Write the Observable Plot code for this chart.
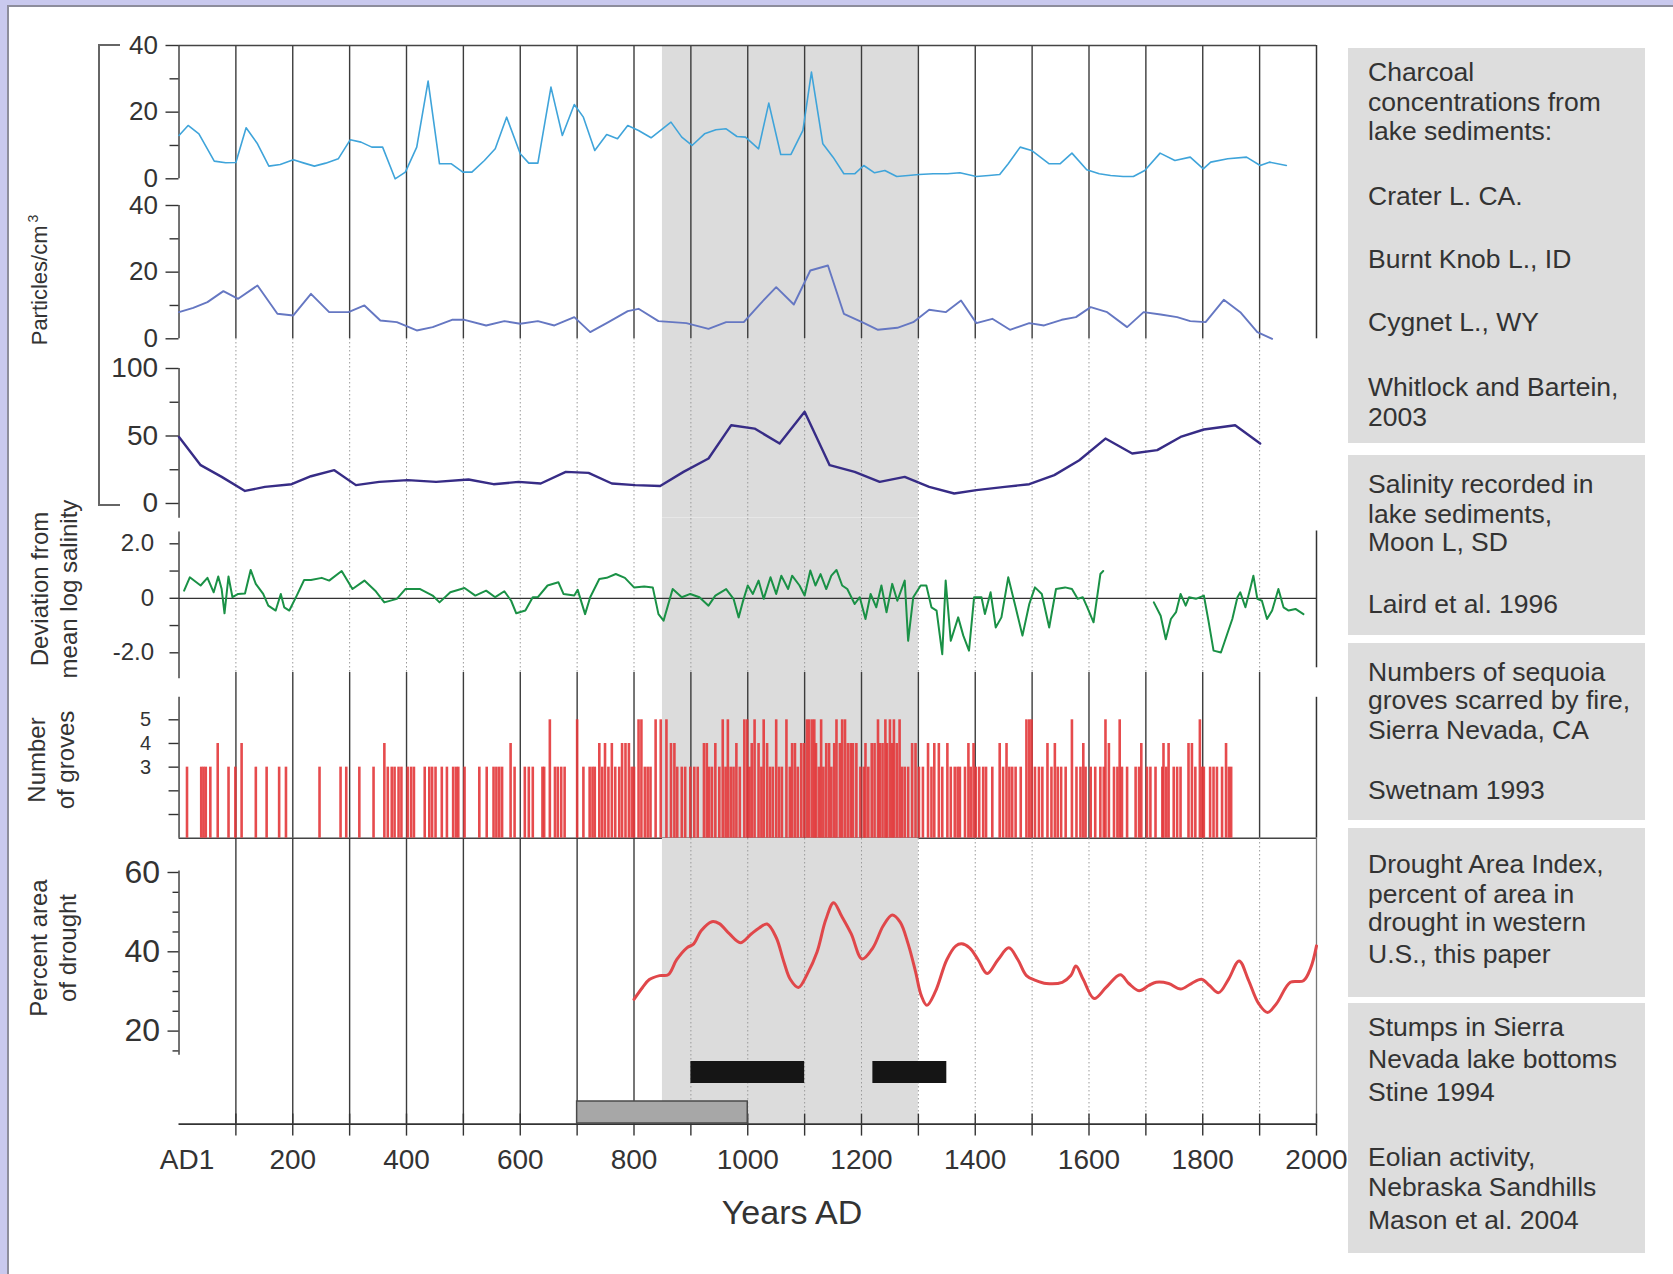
<!DOCTYPE html>
<html>
<head>
<meta charset="utf-8">
<script src="https://cdn.jsdelivr.net/npm/d3@7"></script>
<script src="https://cdn.jsdelivr.net/npm/@observablehq/plot@0.6"></script>
<style>
html, body { margin: 0; padding: 0; background: #c9c9ee; }
#page { position: relative; width: 1673px; height: 1274px; overflow: hidden; }
#sheet { position: absolute; left: 7px; top: 5px; right: 0; bottom: 0; background: #fff; border-left: 2px solid #8d8d9c; border-top: 2px solid #8d8d9c; }
.panel { position: absolute; left: 0; width: 1673px; }
.panel svg { overflow: visible; }
.ylab { position: absolute; font-family: "Liberation Sans", Arial, sans-serif; font-size: 24px; color: #333; line-height: 29px; text-align: center; white-space: nowrap; transform: translate(-50%, -50%) rotate(-90deg); }
.ylab sup { font-size: 14px; vertical-align: 9px; margin-left: 3px; }
.box { position: absolute; background: #dddddd; }
.box div { position: absolute; left: 20px; font-family: "Liberation Sans", Arial, sans-serif; font-size: 26.5px; line-height: 30px; color: #333; white-space: nowrap; }
.note { position: absolute; font-family: "Liberation Sans", Arial, sans-serif; color: #333; white-space: nowrap; }
.bracket { position: absolute; border: 2px solid #666; border-right: none; }
</style>
</head>
<body>
<div id="page">
  <div id="sheet"></div>
</div>
<script>
// ---------------- DATA ----------------
const crater = [[0,13],[16,16],[35,13.5],[62,5.3],[82,4.8],[100,4.9],[118,15.3],[138,10.5],[158,3.8],[178,4.3],[201,5.7],[220,4.7],[238,3.8],[258,4.7],[280,6],[301,11.7],[320,11],[339,9.5],[358,9.5],[380,0],[398,2],[418,9.5],[438,29.3],[458,4.5],[479,4.5],[499,2],[515,2],[537,5.5],[556,9],[576,18.5],[600,7.5],[615,4.7],[631,4.7],[654,27.5],[674,13],[695,22.3],[711,18.5],[731,8.5],[752,13.3],[771,12],[789,16],[808,14.5],[830,12.3],[865,17],[884,12.5],[902,10],[924,13.5],[944,14.7],[962,15],[981,12.7],[996,12.5],[1019,9],[1037,22.7],[1058,7.3],[1076,7.3],[1097,14.5],[1112,32],[1132,10.5],[1150,6.5],[1169,1.5],[1188,1.5],[1204,4],[1223,1.8],[1241,2.5],[1262,0.7],[1282,1],[1301,1.3],[1326,1.5],[1351,1.5],[1373,1.8],[1402,0.7],[1424,1],[1443,1.3],[1458,4.5],[1479,9.5],[1499,8.5],[1530,4.5],[1549,4.5],[1570,7.7],[1596,2.7],[1618,1.5],[1638,1],[1660,0.7],[1678,0.7],[1698,2.5],[1725,7.7],[1751,5.5],[1778,6.5],[1801,3],[1814,5],[1844,6],[1877,6.5],[1901,4],[1917,5],[1947,4]];

const burntKnob = [[0,8],[25,9.3],[50,11],[78,14.3],[104,12],[138,16],[173,7.5],[201,7],[232,13.5],[264,8],[298,8],[326,10],[354,5.5],[383,5],[418,2.5],[446,3.5],[480,5.7],[502,5.7],[540,4],[572,5.3],[600,4.5],[631,5.3],[660,4],[695,6.5],[723,2],[755,5],[789,8.3],[808,9],[843,5.3],[892,4.7],[931,3],[962,5],[993,5],[1022,10.5],[1050,15.5],[1081,10.3],[1110,20.5],[1141,22],[1169,7.5],[1201,5],[1229,2.7],[1263,3.3],[1291,5],[1319,8.7],[1348,8],[1375,11.5],[1402,4.7],[1430,6],[1461,2.7],[1495,4.7],[1521,4],[1552,5.7],[1577,6.5],[1603,9.5],[1632,8],[1667,3.5],[1696,8],[1726,7.3],[1755,6.5],[1778,5.3],[1805,5],[1837,11.7],[1866,8],[1896,2],[1922,0]];

const cygnet = [[0,49.3],[38,28.4],[75,19.7],[116,9.3],[151,12.3],[198,14.3],[232,20.2],[273,24.7],[311,13.6],[352,16],[402,17.3],[452,16],[509,17.8],[553,14.3],[597,16],[636,14.8],[680,23.4],[720,22.7],[761,14.8],[802,13.6],[846,13],[887,23.4],[931,33.3],[971,58],[1012,55.5],[1056,44.4],[1100,67.9],[1144,28.4],[1188,23.4],[1232,16],[1276,19.7],[1319,12.3],[1363,7.4],[1402,9.9],[1452,12.3],[1495,14.3],[1539,21],[1583,32],[1629,48.1],[1676,37],[1720,39.5],[1761,49.3],[1802,54.8],[1857,58],[1901,44.4]];

const salinityEarly = [[9,0.28],[19,0.77],[38,0.47],[50,0.75],[61,0.22],[69,0.8],[75,0.34],[80,-0.55],[87,0.8],[94,0.04],[104,0.16],[116,0.18],[126,1.04],[135,0.53],[148,0.16],[157,-0.27],[170,-0.45],[179,0.16],[185,-0.33],[194,-0.45],[207,0.1],[220,0.67],[232,0.67],[251,0.75],[264,0.65],[286,1.0],[305,0.34],[326,0.65],[345,0.28],[361,-0.15],[383,-0.02],[398,0.34],[424,0.34],[446,0.1],[458,-0.15],[477,0.22],[502,0.38],[521,0.1],[540,0.28],[556,0.04],[572,0.26],[584,-0.09],[593,-0.55],[609,-0.45],[622,0.04],[631,0.04],[648,0.47],[667,0.59],[676,0.16],[695,0.1],[701,0.31],[714,-0.58],[723,0.04],[739,0.71],[752,0.75],[768,0.89],[784,0.75],[800,0.4],[818,0.43],[833,0.4],[843,-0.58],[852,-0.82],[868,0.34],[884,0.04],[899,0.16],[915,0.04],[931,-0.27],[943,0.1],[962,0.34],[975,-0.02],[984,-0.7],[991,-0.15],[1000,0.47],[1009,0.16],[1019,0.65],[1028,-0.02],[1040,0.77],[1050,0.16],[1059,0.83],[1071,0.34],[1078,0.83],[1091,0.47],[1100,0.1],[1110,1.02],[1119,0.47],[1128,0.89],[1138,0.34],[1147,0.83],[1156,1.04],[1166,0.47],[1175,0.34],[1188,-0.21],[1197,0.04],[1207,-0.76],[1216,0.16],[1226,-0.33],[1235,0.47],[1244,-0.51],[1254,0.53],[1263,-0.09],[1276,0.65],[1282,-1.56],[1291,0.04],[1304,0.47],[1314,0.47],[1323,-0.33],[1332,-0.45],[1342,-2.05],[1348,0.65],[1357,-1.56],[1370,-0.7],[1379,-1.37],[1389,-1.92],[1398,0.04],[1411,0.04],[1417,-0.58],[1427,0.22],[1436,-1.07],[1446,-0.7],[1458,0.77],[1471,-0.33],[1483,-1.37],[1495,-0.21],[1505,0.4],[1517,0.16],[1530,-1.07],[1542,0.34],[1558,0.4],[1570,0.34],[1580,-0.02],[1589,0.04],[1597,-0.33],[1608,-0.88],[1620,0.89],[1625,1.0]];

const salinityLate = [[1714,-0.15],[1726,-0.64],[1735,-1.5],[1744,-0.76],[1753,-0.51],[1761,0.16],[1770,-0.27],[1776,0.04],[1788,-0.02],[1802,0.1],[1810,-0.82],[1819,-1.92],[1832,-1.99],[1843,-1.31],[1852,-0.76],[1861,0.04],[1866,0.22],[1875,-0.33],[1884,0.4],[1889,0.83],[1896,-0.02],[1904,-0.09],[1913,-0.76],[1922,-0.45],[1933,0.34],[1942,-0.33],[1951,-0.45],[1963,-0.39],[1977,-0.58]];

const groves = [[14,3],[39,3],[43,3],[47,3],[55,3],[68,4],[87,3],[99,3],[110,4],[135,3],[154,3],[176,3],[188,3],[247,3],[284,3],[294,3],[317,3],[342,3],[361,4],[367,3],[374,3],[379,3],[386,3],[391,3],[402,3],[408,3],[413,3],[432,3],[440,3],[445,3],[451,3],[462,3],[471,3],[482,3],[487,3],[491,3],[502,3],[528,3],[541,3],[553,3],[558,3],[563,3],[568,3],[583,4],[590,3],[608,3],[615,3],[622,3],[639,3],[642,3],[652,5],[661,3],[666,3],[672,3],[678,3],
[700,5],[711,3],[722,3],[727,3],[731,3],[739,4],[744,3],[749,4],[755,3],[761,4],[767,3],[774,3],[779,4],[785,4],[791,4],[796,3],[800,3],[808,5],[813,5],[819,3],[824,3],[829,3],[838,5],[847,5],[857,5],[865,4],[871,4],[876,3],[884,3],[890,3],[899,3],[906,3],[912,3],[923,4],[928,4],[932,3],[937,3],[943,4],[950,3],[956,5],[961,3],[965,5],[970,3],[975,3],[980,4],[986,3],[994,5],[999,5],[1003,3],[1007,4],[1012,5],[1019,4],[1024,3],[1028,5],[1034,4],[1039,3],[1044,3],[1050,5],[1055,3],[1060,3],[1068,5],[1074,3],[1078,4],[1083,4],[1088,3],[1094,4],[1099,4],[1104,5],[1108,5],[1113,5],[1117,5],[1120,4],[1125,3],[1129,5],[1133,3],[1138,4],[1143,4],[1147,3],[1152,4],[1156,5],[1162,4],[1166,5],[1171,5],[1176,4],[1181,4],[1185,4],[1191,4],[1198,3],[1204,3],[1207,4],[1212,3],[1218,4],[1223,4],[1229,5],[1232,4],[1237,4],[1242,5],[1245,4],[1250,5],[1254,4],[1257,5],[1262,4],[1267,5],[1271,3],[1276,3],[1282,3],[1289,4],[1295,4],
[1301,3],[1308,3],[1317,4],[1323,3],[1328,4],[1336,4],[1342,3],[1351,4],[1357,3],[1364,3],[1369,3],[1373,3],[1382,3],[1388,4],[1392,3],[1397,4],[1401,3],[1407,3],[1414,3],[1419,3],[1430,3],[1443,4],[1449,3],[1455,4],[1460,3],[1465,3],[1471,3],[1480,3],[1490,5],[1495,5],[1499,5],[1505,3],[1512,3],[1518,3],[1527,4],[1534,3],[1540,4],[1545,3],[1551,3],[1559,3],[1570,5],[1578,3],
[1585,3],[1590,4],[1594,3],[1603,3],[1611,3],[1620,3],[1626,3],[1629,5],[1635,4],[1644,3],[1650,3],[1654,5],[1658,3],[1667,3],[1682,3],[1688,3],[1692,4],[1702,3],[1708,3],[1717,3],[1729,3],[1731,4],[1736,3],[1740,4],[1749,3],[1755,3],[1761,3],[1775,4],[1781,4],[1787,3],[1795,5],[1799,3],[1802,3],[1813,3],[1819,3],[1825,3],[1834,3],[1841,4],[1846,3],[1850,3]];

const drought = [[800,28],[815,31],[827,33],[845,34],[860,34.2],[875,38],[893,41],[905,42],[918,45.3],[937,47.6],[950,47.1],[968,44.5],[987,42.3],[1006,44.5],[1020,46],[1034,47],[1050,43.6],[1063,37.7],[1075,33],[1089,31],[1105,34.5],[1122,40],[1137,48],[1151,52.4],[1165,49],[1182,44.5],[1201,38.2],[1220,41],[1238,46.5],[1254,49.3],[1268,47.5],[1282,42],[1295,35],[1305,29],[1315,26.5],[1330,30],[1350,38],[1366,41.5],[1376,42],[1390,41],[1405,38],[1421,34.5],[1440,38],[1459,41],[1475,38],[1490,34],[1506,32.8],[1525,32],[1553,32.3],[1568,34],[1577,36.4],[1590,33],[1609,28.2],[1630,31],[1655,34.2],[1670,32],[1688,30.2],[1705,31.5],[1718,32.3],[1740,32],[1761,30.6],[1780,32],[1798,33.1],[1812,31.5],[1828,29.7],[1845,33],[1864,37.7],[1880,33],[1898,27],[1914,24.7],[1930,27],[1954,32.3],[1977,32.7],[1990,36],[2000,41.5]];

const mcaBand = [{start: 850, end: 1300}];
const stumps = [{start: 900, end: 1100, row: "Stumps"}, {start: 1220, end: 1350, row: "Stumps"}];
const eolian = [{start: 700, end: 1000, row: "Eolian"}];
const barRows = ["Stumps", "Eolian"];

const gridYears = d3.range(100, 2000, 100);
const xTickYears = d3.range(0, 2001, 100);
const xLabelYears = d3.range(200, 2001, 200);
const xFirstLabel = [0];
const xTickFormat = d => d === 0 ? "AD1" : String(d);

const legend = [
  {top: 48, bottom: 443, lines: [["Charcoal", 80], ["concentrations from", 110], ["lake sediments:", 139], ["Crater L. CA.", 204], ["Burnt Knob L., ID", 267], ["Cygnet L., WY", 330], ["Whitlock and Bartein,", 395], ["2003", 425]]},
  {top: 455, bottom: 635, lines: [["Salinity recorded in", 492], ["lake sediments,", 522], ["Moon L, SD", 550], ["Laird et al. 1996", 612]]},
  {top: 643, bottom: 820, lines: [["Numbers of sequoia", 680], ["groves scarred by fire,", 708], ["Sierra Nevada, CA", 738], ["Swetnam 1993", 798]]},
  {top: 828, bottom: 997, lines: [["Drought Area Index,", 872], ["percent of area in", 902], ["drought in western", 930], ["U.S., this paper", 962]]},
  {top: 1003, bottom: 1253, lines: [["Stumps in Sierra", 1035], ["Nevada lake bottoms", 1067], ["Stine 1994", 1100], ["Eolian activity,", 1165], ["Nebraska Sandhills", 1195], ["Mason et al. 2004", 1228]]}
];

const yLabels = [
  {html: "Particles/cm<sup>3</sup>", x: 36, y: 280, size: 22},
  {html: "Deviation from<br>mean log salinity", x: 54, y: 589, size: 24},
  {html: "Number<br>of groves", x: 51, y: 760, size: 24},
  {html: "Percent area<br>of drought", x: 53, y: 948, size: 24}
];

// ---------------- LAYOUT ----------------
const W = 1673, X_LEFT = 178.5, X_RIGHT = 1316;
const FONT = "Liberation Sans, Arial, Helvetica, sans-serif";
const GRID_SOLID = {stroke: "#3c3c3c", strokeWidth: 1.4};
const GRID_DOTTED = {stroke: "#9a9a9a", strokeWidth: 1, strokeDasharray: "1.5,2.5"};
const page = document.getElementById("page");

// domain so that value v1 sits at page y p1 and v2 at p2, for a frame top..bottom
function domainFor(top, bottom, v1, p1, v2, p2) {
  const k = (p2 - p1) / (v1 - v2);
  return [v2 - (bottom - p2) / k, v1 + (p1 - top) / k];
}

function addPanel({top, bottom, marginBottom = 0, y, marks, fontSize = 28}) {
  const svg = Plot.plot({
    width: W,
    height: bottom - top + marginBottom,
    marginLeft: X_LEFT, marginRight: W - X_RIGHT, marginTop: 0, marginBottom,
    x: {domain: [0, 2000], axis: null},
    y: {axis: null, ...y},
    style: {background: "transparent", overflow: "visible", fontFamily: FONT, fontSize: fontSize + "px", color: "#333"},
    marks
  });
  const div = document.createElement("div");
  div.className = "panel";
  div.style.top = top + "px";
  div.appendChild(svg);
  page.appendChild(div);
}

const band = () => Plot.barX(mcaBand, {x1: "start", x2: "end", fill: "#dcdcdc"});
const yAxis = (major, minor, fmt, opts) => [
  Plot.axisY({ticks: major, tickSize: opts.size, tickPadding: opts.pad, tickFormat: fmt, fontSize: opts.font, label: null, strokeWidth: 1.4}),
  Plot.axisY({ticks: minor, tickSize: opts.minorSize, tickFormat: () => "", label: null, strokeWidth: 1.4})
];
const axisLine = (y1, y2) => Plot.ruleX([0], {y1, y2, stroke: "#444", strokeWidth: 1.5});
const pt = {x: d => d[0], y: d => d[1]};

// Panel 1: Crater L.
addPanel({
  top: 45, bottom: 191,
  y: {domain: domainFor(45, 191, 40, 45, 0, 178.3)},
  marks: [
    band(),
    Plot.ruleX(gridYears, GRID_SOLID),
    Plot.ruleX([2000], {stroke: "#333", strokeWidth: 1.5}),
    Plot.ruleY([40], {stroke: "#444", strokeWidth: 1.5}),
    axisLine(0, 40),
    ...yAxis([0, 20, 40], [10, 30], d => String(d), {size: 13, pad: 8, font: 26, minorSize: 9}),
    Plot.line(crater, {...pt, stroke: "#3fa4da", strokeWidth: 1.6})
  ]
});

// Panel 2: Burnt Knob L.
addPanel({
  top: 191, bottom: 338.3,
  y: {domain: domainFor(191, 338.3, 40, 205, 0, 338.3)},
  marks: [
    band(),
    Plot.ruleX(gridYears, GRID_SOLID),
    Plot.ruleX([2000], {stroke: "#333", strokeWidth: 1.5}),
    axisLine(0, 40),
    ...yAxis([0, 20, 40], [10, 30], d => String(d), {size: 13, pad: 8, font: 26, minorSize: 9}),
    Plot.line(burntKnob, {...pt, stroke: "#6577c2", strokeWidth: 1.9})
  ]
});

// Panel 3: Cygnet L.
const cygDomain = domainFor(338.3, 518, 100, 368.3, 0, 503.3);
addPanel({
  top: 338.3, bottom: 518,
  y: {domain: cygDomain},
  marks: [
    band(),
    Plot.ruleX(gridYears, GRID_DOTTED),
    axisLine(cygDomain[0], 100),
    ...yAxis([0, 50, 100], [25, 75], d => String(d), {size: 13, pad: 8, font: 28, minorSize: 9}),
    Plot.line(cygnet, {...pt, stroke: "#372c86", strokeWidth: 2.4})
  ]
});

// Panel 4: Salinity
addPanel({
  top: 518, bottom: 672,
  y: {domain: domainFor(518, 672, 2, 543.3, -2, 652.3)},
  marks: [
    band(),
    Plot.ruleX(gridYears, GRID_DOTTED),
    Plot.ruleX([2000], {y1: -2.55, y2: 2.47, stroke: "#333", strokeWidth: 1.5}),
    axisLine(-2.95, 2.43),
    ...yAxis([2, 0, -2], [1, -1], d => d === 0 ? "0" : d.toFixed(1), {size: 9, pad: 16, font: 24, minorSize: 9}),
    Plot.ruleY([0], {stroke: "#333", strokeWidth: 1.3}),
    Plot.line(salinityEarly, {...pt, stroke: "#1a9146", strokeWidth: 2}),
    Plot.line(salinityLate, {...pt, stroke: "#1a9146", strokeWidth: 2})
  ]
});

// Panel 5: sequoia groves
addPanel({
  top: 672, bottom: 837.7,
  y: {domain: domainFor(672, 837.7, 5, 719.3, 0, 837.7)},
  marks: [
    band(),
    Plot.ruleX(gridYears, GRID_SOLID),
    Plot.ruleX([2000], {y1: 0, y2: 5.95, stroke: "#333", strokeWidth: 1.5}),
    axisLine(0, 5.95),
    ...yAxis([3, 4, 5], [1, 2], d => String(d), {size: 10, pad: 18, font: 20, minorSize: 10}),
    Plot.ruleY([0], {stroke: "#444", strokeWidth: 1.5}),
    Plot.ruleX(groves, {x: d => d[0], y1: 0, y2: d => d[1], stroke: "#e3373a", strokeWidth: 2.6, strokeOpacity: 0.9})
  ]
});

// Panel 6: Drought area index + time axis
const dDomain = domainFor(837.7, 1123.3, 60, 871.7, 20, 1030.3);
const frameH = 1123.3 - 837.7;
addPanel({
  top: 837.7, bottom: 1123.3, marginBottom: 130,
  y: {domain: dDomain},
  marks: [
    band(),
    Plot.ruleX(gridYears.filter(d => d <= 800), GRID_SOLID),
    Plot.ruleX(gridYears.filter(d => d > 800), GRID_DOTTED),
    Plot.ruleX([2000], {stroke: "#777", strokeWidth: 1.3}),
    Plot.ruleX(xTickYears.slice(1), {stroke: "#333", strokeWidth: 1.4, insetTop: frameH - 10}),
    Plot.ruleY([dDomain[0]], {stroke: "#333", strokeWidth: 1.6}),
    Plot.axisX({ticks: xTickYears.slice(1), tickSize: 12, tickFormat: () => "", label: null, strokeWidth: 1.4}),
    Plot.axisX({ticks: xLabelYears, tickSize: 0, tickPadding: 25, tickFormat: xTickFormat, fontSize: 28, label: null}),
    Plot.axisX({ticks: xFirstLabel, tickSize: 0, tickPadding: 25, tickFormat: xTickFormat, fontSize: 28, label: null, dx: 8}),
    axisLine(13.9, 60.4),
    ...yAxis([20, 40, 60], [15, 25, 30, 35, 45, 50, 55], d => String(d), {size: 11, pad: 8, font: 32, minorSize: 6}),
    Plot.line(drought, {...pt, stroke: "#e0474a", strokeWidth: 3, curve: "catmull-rom"})
  ]
});

// Stumps / Eolian bars overlay
(function () {
  const top = 1040, bottom = 1123.3;
  const svg = Plot.plot({
    width: W, height: bottom - top,
    marginLeft: X_LEFT, marginRight: W - X_RIGHT, marginTop: 0, marginBottom: 0,
    x: {domain: [0, 2000], axis: null},
    y: {type: "band", domain: barRows, range: [20, bottom - top], paddingInner: 0.45, paddingOuter: 0, axis: null},
    style: {background: "transparent", overflow: "visible"},
    marks: [
      Plot.barX(stumps, {x1: "start", x2: "end", y: "row", fill: "#151515"}),
      Plot.barX(eolian, {x1: "start", x2: "end", y: "row", fill: "#a7a7a7", stroke: "#4a4a4a", strokeWidth: 1.5})
    ]
  });
  const div = document.createElement("div");
  div.className = "panel";
  div.style.top = top + "px";
  div.appendChild(svg);
  page.appendChild(div);
})();

// "Years AD"
const xl = document.createElement("div");
xl.className = "note";
xl.style.cssText = "left:792px;top:1212px;transform:translate(-50%,-50%);font-size:34px;";
xl.textContent = "Years AD";
page.appendChild(xl);

// bracket grouping the charcoal panels
const br = document.createElement("div");
br.className = "bracket";
br.style.cssText = "left:98px;top:44px;width:20px;height:458px;";
page.appendChild(br);

// rotated y labels
for (const l of yLabels) {
  const d = document.createElement("div");
  d.className = "ylab";
  d.style.left = l.x + "px";
  d.style.top = l.y + "px";
  d.style.fontSize = l.size + "px";
  d.innerHTML = l.html;
  page.appendChild(d);
}

// legend boxes
for (const b of legend) {
  const box = document.createElement("div");
  box.className = "box";
  box.style.cssText = `left:1348px;top:${b.top}px;width:297px;height:${b.bottom - b.top}px;`;
  for (const [text, baseline] of b.lines) {
    const t = document.createElement("div");
    t.textContent = text;
    t.style.top = (baseline - b.top - 23.5) + "px";
    box.appendChild(t);
  }
  page.appendChild(box);
}
</script>
</body>
</html>
